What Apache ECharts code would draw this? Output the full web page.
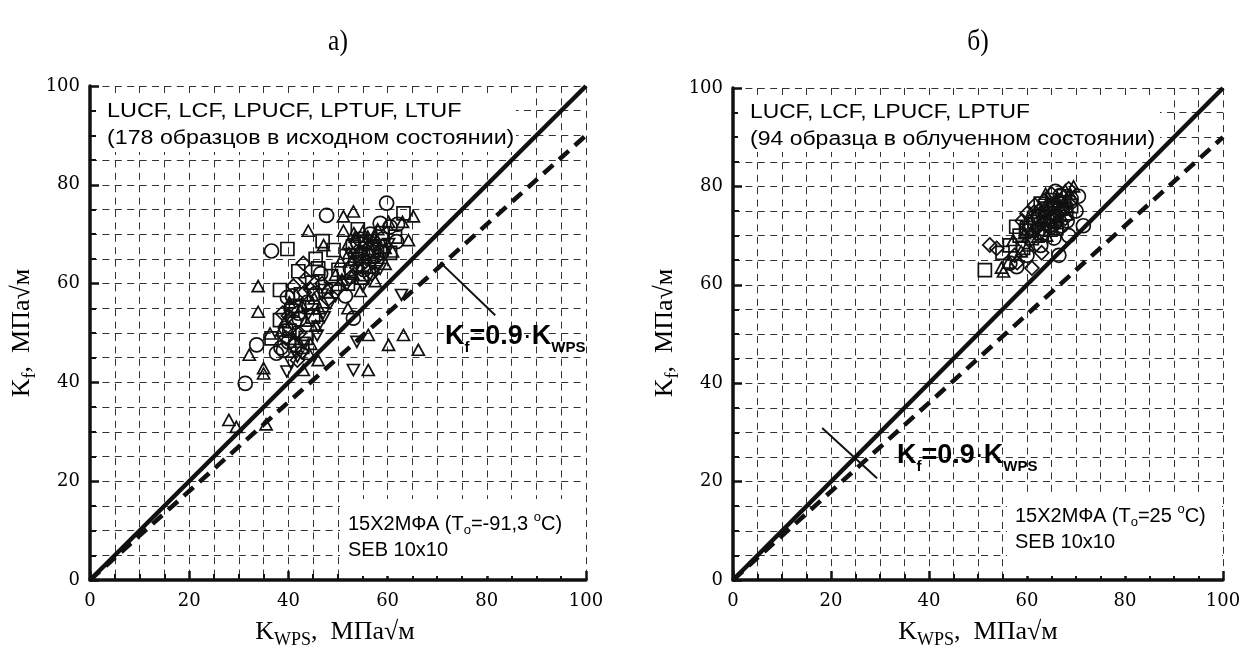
<!DOCTYPE html>
<html><head><meta charset="utf-8">
<script src="https://cdn.jsdelivr.net/npm/echarts@6/dist/echarts.min.js"></script>
<style>html,body{margin:0;padding:0;background:#fff}#c{width:1254px;height:659px}</style>
</head><body><div id="c"></div>
<script>
// ---- axis / reference data ----
const AXIS_MIN = 0, AXIS_MAX = 100, MAJOR_STEP = 20, MINOR_SPLIT = 4;
const diagX = [0, 100];
const diagSolidY = [0, 100];
const diagDashedY = [0, 90];
const leftLeader = [[70.6, 64.3], [81.7, 53.6]];
const rightLeader = [[18.2, 30.9], [29.4, 20.7]];

// ---- left panel (а) ----
const leftLUCF = [ // squares
[63.2,74.2],[61.5,69.5],[39.8,67.0],[46.9,68.6],[49.1,66.8],[46.0,63.1],[50.1,62.8],[38.3,58.7],[38.3,52.6],[36.6,48.9],
[45.0,53.3],[41.5,55.5],[42.5,57.8],[44.8,60.2],[47.5,58.5],[55.5,68.5],[57.2,66.8],[59.0,70.2],[53.5,65.0],[56.2,63.4],
[58.5,67.5],[54.8,61.2],[52.0,60.0],[40.2,50.5],[43.5,49.0],[48.6,61.5],[60.5,66.2],[54.0,71.0],[42.0,62.5],[45.5,65.0],
[53.0,67.5],[56.8,65.5],[40.8,54.5],[44.8,55.2],[42.8,47.2]];
const leftLCF = [ // circles
[59.8,76.3],[47.7,73.8],[58.5,72.2],[61.8,68.5],[36.6,66.6],[33.6,47.6],[37.6,45.9],[31.3,39.8],[53.1,53.0],[40.5,55.0],
[41.2,52.2],[39.5,51.0],[42.0,54.0],[40.8,57.5],[43.8,56.2],[39.0,46.5],[41.5,47.5],[55.0,66.0],[57.8,64.5],[54.0,68.2],
[56.5,70.0],[59.0,69.0],[52.5,63.0],[45.5,58.0],[38.5,47.0],[46.5,62.0],[51.5,57.5],[60.5,71.5],[62.0,72.0],
[54.5,69.0],[58.8,66.2],[55.2,62.8],[42.2,52.8],[39.8,57.2],[40.0,48.2]];
const leftLPUCF = [ // diamonds
[43.0,64.1],[42.7,46.2],[40.0,53.5],[44.5,58.8],[41.0,59.5],[38.8,54.0],[42.2,50.0],[46.8,60.0],[48.0,56.8],[55.5,64.5],
[53.8,66.5],[57.0,68.2],[52.5,61.2],[50.0,59.0],[41.8,44.5],[43.5,61.0],[56.8,62.0],[58.3,65.8],[39.5,49.0],[54.5,63.5],
[55.8,68.0],[53.8,63.2],[41.5,50.2],[43.2,58.2]];
const leftLPTUF = [ // triangles
[51.1,73.6],[53.1,74.6],[65.2,73.6],[63.0,72.5],[60.2,72.5],[44.0,70.7],[51.1,70.7],[47.1,67.8],[64.2,68.8],[33.9,59.5],
[33.9,54.3],[36.3,49.9],[32.1,45.6],[35.0,42.9],[35.0,41.8],[28.0,32.4],[29.5,31.0],[35.5,31.5],[63.2,49.6],[60.2,47.6],
[66.2,46.6],[56.1,49.6],[56.1,42.5],[46.0,44.5],[43.0,42.5],[52.0,68.0],[53.5,69.5],[55.0,70.5],[56.0,67.0],[57.5,69.5],
[54.2,66.8],[52.8,64.8],[55.8,65.2],[58.0,66.5],[53.0,62.0],[50.8,60.8],[49.5,61.8],[47.8,59.2],[45.2,57.0],[42.8,55.5],
[40.2,56.2],[43.5,52.5],[46.2,55.0],[41.0,48.8],[38.6,50.5],[44.5,47.8],[54.5,58.5],[57.5,60.5],[59.5,64.0],[61.0,66.5],
[52.0,55.0],[50.5,64.5],[57.8,68.8],[52.2,66.2],[56.0,69.5],[59.5,67.2],[53.2,70.2],[58.0,71.0],[45.5,51.5],[39.2,52.2],
[44.2,45.8]];
const leftLTUF = [ // inverted triangles
[62.8,57.7],[53.8,48.2],[53.1,42.5],[39.7,42.2],[46.0,51.3],[48.4,56.0],[44.0,53.8],[41.5,46.0],[45.8,49.5],[55.0,59.5],
[57.5,62.5],[54.0,64.2],[49.5,57.5],[51.8,59.8],[43.0,48.0],[52.5,66.0],[58.5,63.0],[47.0,54.0],[40.5,44.0],[56.0,61.0],
[57.0,64.0],[54.8,65.8],[60.2,68.0],[47.2,53.2],[41.8,45.2],[46.8,57.8]];

// ---- right panel (б) ----
const rightLUCF = [ // squares
[51.4,63.0],[61.6,72.8],[56.5,68.0],[58.5,70.0],[60.0,71.5],[62.5,74.0],[64.0,75.5],[65.5,73.0],[63.0,70.5],[66.8,76.5],
[68.0,74.5],[59.2,67.5],[57.8,71.8],[64.8,71.2],[67.5,78.0],[61.0,69.5],[55.0,66.5],[69.0,76.0],[66.0,71.5],[63.5,72.5],
[60.8,72.2],[65.2,77.2],[62.8,76.5],[59.8,71.0]];
const rightLCF = [ // circles
[56.5,64.4],[57.9,63.7],[60.0,66.0],[62.8,68.0],[64.5,72.0],[66.0,74.0],[67.8,75.5],[69.0,77.5],[70.5,78.0],[68.2,73.0],
[65.5,69.5],[66.5,66.0],[68.5,70.0],[71.5,72.0],[63.0,75.0],[61.2,73.5],[65.8,79.0],[70.0,75.0],[67.0,72.0],[64.0,73.8],
[62.2,73.8],[66.8,78.2],[65.0,71.8],[68.8,76.8]];
const rightLPUCF = [ // diamonds
[52.4,68.1],[53.8,67.4],[61.6,76.2],[61.0,63.4],[57.5,66.0],[59.0,73.0],[63.5,77.0],[65.0,78.5],[66.5,75.0],[62.0,71.5],
[60.5,69.0],[64.5,73.5],[68.5,79.5],[67.0,77.0],[58.0,64.5],[63.0,66.5],[65.5,76.5],[60.0,74.5],[67.8,73.5],
[63.8,74.8],[67.2,75.2],[61.5,74.8]];
const rightLPTUF = [ // triangles
[55.2,62.7],[57.2,69.1],[54.8,63.5],[59.5,70.5],[61.5,72.0],[63.0,73.2],[64.5,76.0],[66.0,77.5],[67.5,76.8],[68.8,78.5],
[65.2,74.5],[62.2,69.8],[60.2,68.0],[58.8,66.8],[56.2,64.5],[66.2,72.5],[69.5,80.0],[63.8,78.5],[67.0,74.0],[64.0,70.0],
[62.5,75.8],[65.8,75.8],[61.0,70.8],[68.2,77.2],[64.2,76.8],[66.0,73.2],[63.2,71.2],[67.8,79.2]];

// ---- build chart ----
const BLACK = '#111';
const gridStyle = { color: '#333', width: 1, type: [7, 5.4] };
function makeAxis(gi, isX) {
  return {
    type: 'value', gridIndex: gi, min: AXIS_MIN, max: AXIS_MAX, interval: MAJOR_STEP,
    axisLine: { show: true, onZero: false, lineStyle: { color: BLACK, width: 3.5 } },
    axisTick: { show: true, inside: true, length: 9, lineStyle: { color: BLACK, width: 2.5 } },
    minorTick: { show: true, splitNumber: MINOR_SPLIT, length: 6, lineStyle: { color: BLACK, width: 2 } },
    splitLine: { show: true, lineStyle: gridStyle },
    minorSplitLine: { show: true, lineStyle: gridStyle },
    axisLabel: { color: '#000', fontFamily: 'DejaVu Serif', fontSize: 18, margin: isX ? 12 : 10 }
  };
}
function scatter(name, data, gi, symbol, size, rotate) {
  return {
    type: 'scatter', name, data, xAxisIndex: gi, yAxisIndex: gi, symbol, symbolSize: size,
    symbolRotate: rotate || 0, z: 4, silent: true,
    itemStyle: { color: 'rgba(255,255,255,0)', borderColor: BLACK, borderWidth: 1.7, opacity: 1 }
  };
}
function line(data, gi, width, type) {
  return {
    type: 'line', data, xAxisIndex: gi, yAxisIndex: gi, showSymbol: false, symbol: 'none', z: 3, silent: true,
    lineStyle: { color: BLACK, width, type }
  };
}
const solidPts = diagX.map((x, i) => [x, diagSolidY[i]]);
const dashedPts = diagX.map((x, i) => [x, diagDashedY[i]]);

const series = [];
[0, 1].forEach(gi => {
  series.push(line(solidPts, gi, 4.5, 'solid'));
  series.push(line(dashedPts, gi, 4.5, [13, 8]));
  series.push(line(gi === 0 ? leftLeader : rightLeader, gi, 2, 'solid'));
});
series.push(scatter('LUCF', leftLUCF, 0, 'rect', 13));
series.push(scatter('LCF', leftLCF, 0, 'circle', 14));
series.push(scatter('LPUCF', leftLPUCF, 0, 'diamond', 14));
series.push(scatter('LPTUF', leftLPTUF, 0, 'triangle', [12, 11]));
series.push(scatter('LTUF', leftLTUF, 0, 'triangle', [12, 11], 180));
series.push(scatter('LUCF', rightLUCF, 1, 'rect', 13));
series.push(scatter('LCF', rightLCF, 1, 'circle', 14));
series.push(scatter('LPUCF', rightLPUCF, 1, 'diamond', 14));
series.push(scatter('LPTUF', rightLPTUF, 1, 'triangle', [12, 11]));

const SANS = '"Liberation Sans", Arial, sans-serif';
const SERIF = '"Liberation Serif", "Times New Roman", serif';
function txt(x, y, text, font, opts) {
  return Object.assign({ type: 'text', x, y, z: 10, silent: true,
    style: { text, font, fill: '#000', verticalAlign: 'middle', align: 'left' } }, opts || {});
}
function box(x, y, w, h) {
  return { type: 'rect', shape: { x, y, width: w, height: h }, z: 1, silent: true, style: { fill: '#fff' } };
}
const nameRich = {
  k: { font: '26px ' + SERIF, lineHeight: 34, fill: '#000' },
  s: { font: '18px ' + SERIF, lineHeight: 17, verticalAlign: 'bottom', fill: '#000' }
};
const kRich = {
  k: { font: 'bold 27px ' + SANS, lineHeight: 36, fill: '#000' },
  d: { font: '27px ' + SANS, lineHeight: 36, fill: '#000' },
  s: { font: 'bold 15px ' + SANS, lineHeight: 14, verticalAlign: 'bottom', fill: '#000' }
};
const steelRich = {
  m: { font: '20px ' + SANS, lineHeight: 26, fill: '#000' },
  s: { font: '13px ' + SANS, lineHeight: 13, verticalAlign: 'bottom', fill: '#000' },
  p: { font: '13px ' + SANS, lineHeight: 13, verticalAlign: 'top', fill: '#000' }
};
function richTxt(x, y, text, rich, opts) {
  return Object.assign({ type: 'text', x, y, z: 10, silent: true,
    style: { text, rich, fill: '#000', verticalAlign: 'middle', align: 'left' } }, opts || {});
}
function centered(x, y, text, rich, rot) {
  return { type: 'text', x, y, z: 10, silent: true, rotation: rot || 0,
    style: { text, rich, fill: '#000', align: 'center', verticalAlign: 'middle' } };
}
const xName = '{k|K}{s|WPS}{k|,  МПа√м}';
const yName = '{k|K}{s|f}{k|,  МПа√м}';
const kLabel = '{k|K}{s|f}{k|=0.9}{d|·}{k|K}{s|WPS}';

const graphic = [
  // white boxes behind annotations
  box(96, 96, 420, 56), box(738, 96, 422, 56), box(340, 499, 245, 77), box(1007, 497, 215, 79),
  // panel labels
  { type: 'text', x: 338, y: 42, z: 10, scaleX: 0.85, style: { text: 'а)', font: '30px ' + SERIF, fill: '#000', align: 'center', verticalAlign: 'middle' } },
  { type: 'text', x: 978, y: 42, z: 10, scaleX: 0.85, style: { text: 'б)', font: '30px ' + SERIF, fill: '#000', align: 'center', verticalAlign: 'middle' } },
  // top annotations
  txt(107, 111, 'LUCF, LCF, LPUCF, LPTUF, LTUF', '20px ' + SANS, { scaleX: 1.17 }),
  txt(107, 138, '(178 образцов в исходном состоянии)', '20px ' + SANS, { scaleX: 1.16 }),
  txt(750, 112, 'LUCF, LCF, LPUCF, LPTUF', '20px ' + SANS, { scaleX: 1.14 }),
  txt(750, 139, '(94 образца в облученном состоянии)', '20px ' + SANS, { scaleX: 1.15 }),
  // bottom annotations
  richTxt(348, 524, '{m|15Х2МФА (T}{s|o}{m|=-91,3 }{p|o}{m|C)}', steelRich),
  txt(348, 550, 'SEB 10x10', '20px ' + SANS),
  richTxt(1015, 516, '{m|15Х2МФА (T}{s|o}{m|=25 }{p|o}{m|C)}', steelRich),
  txt(1015, 542, 'SEB 10x10', '20px ' + SANS),
  // K_f = 0.9 K_WPS labels
  richTxt(445, 337, kLabel, kRich),
  richTxt(897, 456, kLabel, kRich),
  // axis names
  centered(335, 632, xName, nameRich),
  centered(978, 632, xName, nameRich),
  centered(22, 333, yName, nameRich, Math.PI / 2),
  centered(665, 333, yName, nameRich, Math.PI / 2)
];

const chart = echarts.init(document.getElementById('c'), null, { renderer: 'canvas' });
chart.setOption({
  animation: false,
  backgroundColor: '#fff',
  grid: [
    { left: 90, top: 86, width: 496, height: 494 },
    { left: 733, top: 88, width: 490, height: 492 }
  ],
  xAxis: [makeAxis(0, true), makeAxis(1, true)],
  yAxis: [makeAxis(0, false), makeAxis(1, false)],
  series,
  graphic
});
</script></body></html>
